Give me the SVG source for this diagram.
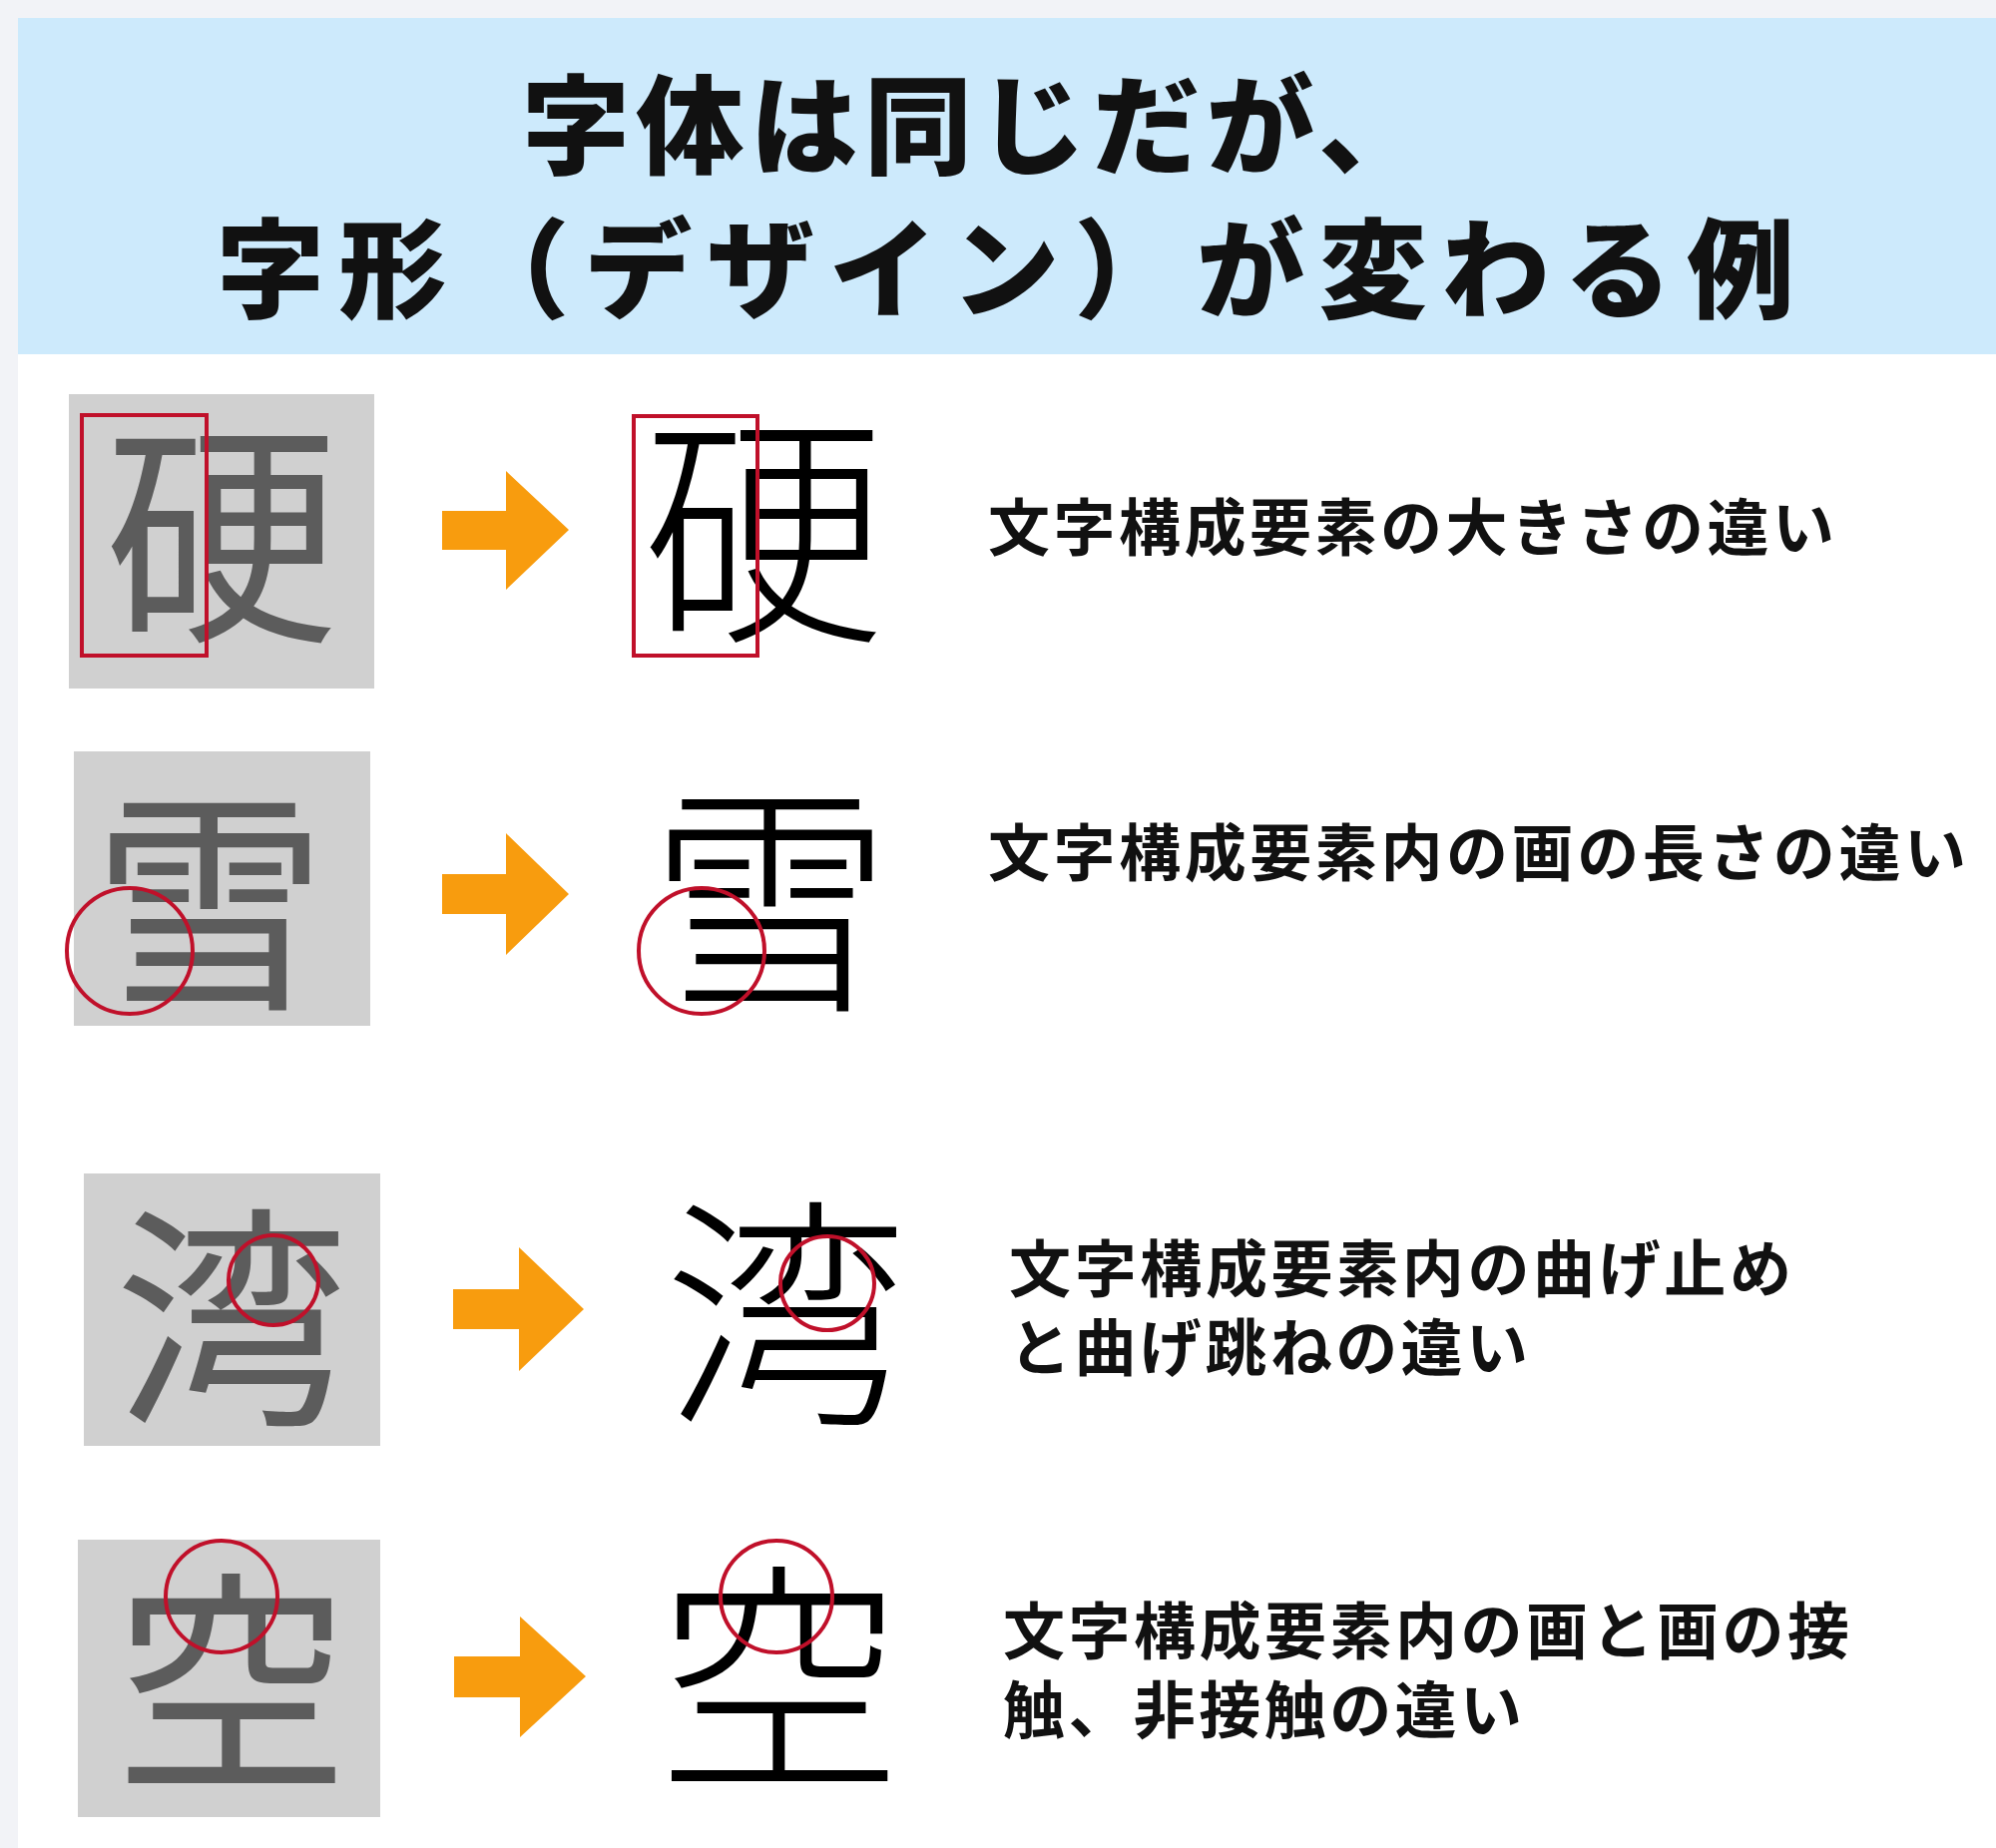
<svg xmlns="http://www.w3.org/2000/svg" width="2000" height="1852" viewBox="0 0 2000 1852">
<style>
.title{font-family:"Noto Sans CJK JP",sans-serif;font-weight:900;font-size:108px;fill:#111}
.lbl{font-family:"Noto Sans CJK JP",sans-serif;font-weight:700;font-size:62px;fill:#111}
.gbox{fill:#d0d0d0}
.gch{font-family:"Noto Sans CJK JP",sans-serif;font-weight:400;font-size:235px;fill:#5c5c5c;text-anchor:middle;dominant-baseline:central}
.bch{font-family:"Noto Sans CJK JP",sans-serif;font-weight:300;font-size:245px;fill:#000;text-anchor:middle;dominant-baseline:central}
.mark{fill:none;stroke:#c0102a;stroke-width:4}
.arr{fill:#f89c0e}
</style>
<rect width="2000" height="1852" fill="#f2f3f7"/>
<rect x="18" y="18" width="1982" height="1834" fill="#fff"/>
<rect x="18" y="18" width="1982" height="337" fill="#cdeafc"/>
<g id="title">
<text class="title" x="523" y="166" textLength="906">字体は同じだが、</text>
<text class="title" x="217" y="310" textLength="1581">字形（デザイン）が変わる例</text>
</g>
<g id="row1">
<rect class="gbox" x="69" y="395" width="306" height="295"/>
<text class="gch" x="222" y="522">硬</text>
<rect class="mark" x="82" y="416" width="125" height="241"/>
<text class="bch" x="765" y="518">硬</text>
<rect class="mark" x="635" y="417" width="124" height="240"/>
<text class="lbl" x="990" y="552" textLength="848">文字構成要素の大きさの違い</text>
</g>
<g id="row2">
<rect class="gbox" x="74" y="753" width="297" height="275"/>
<text class="gch" x="210" y="890">雪</text>
<circle class="mark" cx="130" cy="953" r="63"/>
<text class="bch" x="772" y="888">雪</text>
<circle class="mark" cx="703" cy="953" r="63"/>
<text class="lbl" x="990" y="878" textLength="980">文字構成要素内の画の長さの違い</text>
</g>
<g id="row3">
<rect class="gbox" x="84" y="1176" width="297" height="273"/>
<text class="gch" x="232" y="1307">湾</text>
<circle class="mark" cx="274" cy="1283" r="45"/>
<text class="bch" x="787" y="1303">湾</text>
<circle class="mark" cx="829" cy="1286" r="47"/>
<text class="lbl" x="1011" y="1295" textLength="784">文字構成要素内の曲げ止め</text>
<text class="lbl" x="1011" y="1374" textLength="520">と曲げ跳ねの違い</text>
</g>
<g id="row4">
<rect class="gbox" x="78" y="1543" width="303" height="278"/>
<text class="gch" x="232" y="1672">空</text>
<circle class="mark" cx="222" cy="1600" r="56"/>
<text class="bch" x="781" y="1668">空</text>
<circle class="mark" cx="778" cy="1600" r="56"/>
<text class="lbl" x="1005" y="1658" textLength="848">文字構成要素内の画と画の接</text>
<text class="lbl" x="1005" y="1737" textLength="520">触、非接触の違い</text>
</g>
<g id="connectors">
<polygon class="arr" points="443,512 507,512 507,472 570,531 507,591 507,551 443,551"/>
<polygon class="arr" points="443,876 507,876 507,835 570,896 507,957 507,916 443,916"/>
<polygon class="arr" points="454,1292 520,1292 520,1250 585,1312 520,1374 520,1332 454,1332"/>
<polygon class="arr" points="455,1660 521,1660 521,1620 587,1680 521,1741 521,1701 455,1701"/>
</g>
</svg>
